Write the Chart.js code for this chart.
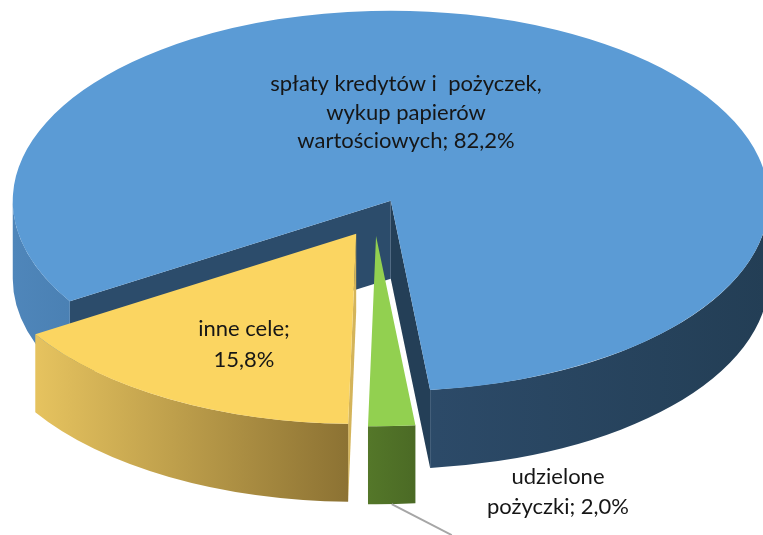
<!DOCTYPE html>
<html lang="pl">
<head>
<meta charset="utf-8">
<style>html,body{margin:0;padding:0;background:#fff}canvas{display:block}</style>
<script src="https://cdn.jsdelivr.net/npm/chart.js@4"></script>
</head>
<body>
<canvas id="c" width="763" height="535"></canvas>
<script>
const categories = ["spłaty kredytów i  pożyczek, wykup papierów wartościowych", "udzielone pożyczki", "inne cele"];
const shares = [82.2, 2.0, 15.8];
const topColors = ["#5b9bd5", "#92d050", "#fbd561"];
const labelLines = [
  ["spłaty kredytów i  pożyczek,", "wykup papierów", "wartościowych; 82,2%"],
  ["udzielone", "pożyczki; 2,0%"],
  ["inne cele;", "15,8%"]
];
const labelCenters = [[406, 84, 28.5], [558, 477, 30], [244, 329, 31]];
const wallStops = [
  [[0, "#4f86ba"], [0.08, "#4a80b3"], [0.56, "#2c4a68"], [1, "#233e55"]],
  [[0, "#547729"], [1, "#4b6a25"]],
  [[0, "#e6c35f"], [1, "#8c7233"]]
];
const cutWallColors = [["#2c4c6b", "#243f57"], [null, null], ["#d4b45a", null]];
const startDeg = 238.1, explode = 37, radius = 378, tilt = 0.503, depth = 78, centerY = 217.5;

const tiltPlugin = {
  id: "tilt3d",
  afterDatasetsUpdate(chart) {
    // pull every slice out from the common centre
    chart.getDatasetMeta(0).data.forEach(a => {
      const mid = (a.startAngle + a.endAngle) / 2;
      a.x += Math.cos(mid) * explode;
      a.y += Math.sin(mid) * explode;
    });
  },
  beforeDatasetsDraw(chart) {
    const ctx = chart.ctx;
    const arcs = chart.getDatasetMeta(0).data;
    const baseY = (chart.chartArea.top + chart.chartArea.bottom) / 2;
    const geom = a => ({
      cx: a.x, cy: centerY + (a.y - baseY) * tilt,
      r: a.outerRadius, ry: a.outerRadius * tilt, a0: a.startAngle, a1: a.endAngle
    });
    const cutWall = (g, ang, col) => {
      if (!col) return;
      const ex = g.cx + Math.cos(ang) * g.r, ey = g.cy + Math.sin(ang) * g.ry;
      ctx.beginPath();
      ctx.moveTo(g.cx, g.cy); ctx.lineTo(ex, ey);
      ctx.lineTo(ex, ey + depth); ctx.lineTo(g.cx, g.cy + depth);
      ctx.closePath(); ctx.fillStyle = col; ctx.fill();
    };
    [0, 2, 1].forEach(i => {
      const g = geom(arcs[i]);
      cutWall(g, g.a1, cutWallColors[i][1]);
      cutWall(g, g.a0, cutWallColors[i][0]);
      let xs = [];
      for (let k = -1; k <= 2; k++) {
        const s = Math.max(g.a0, 2 * Math.PI * k), e = Math.min(g.a1, 2 * Math.PI * k + Math.PI);
        if (e > s) {
          xs.push(g.cx + Math.cos(s) * g.r, g.cx + Math.cos(e) * g.r);
        }
      }
      const grad = ctx.createLinearGradient(Math.min(...xs), 0, Math.max(...xs), 0);
      wallStops[i].forEach(st => grad.addColorStop(st[0], st[1]));
      ctx.fillStyle = grad;
      for (let k = -1; k <= 2; k++) {
        const s = Math.max(g.a0, 2 * Math.PI * k), e = Math.min(g.a1, 2 * Math.PI * k + Math.PI);
        if (e > s) {
          ctx.beginPath();
          ctx.ellipse(g.cx, g.cy, g.r, g.ry, 0, s, e);
          ctx.ellipse(g.cx, g.cy + depth, g.r, g.ry, 0, e, s, true);
          ctx.closePath(); ctx.fill();
        }
      }
    });
    // leader line from the small slice towards its label
    const gs = geom(arcs[1]);
    const gm = (gs.a0 + gs.a1) / 2;
    const lx = gs.cx + Math.cos(gm) * gs.r, ly = gs.cy + Math.sin(gm) * gs.ry + depth;
    ctx.strokeStyle = "#a6a6a6"; ctx.lineWidth = 2;
    ctx.beginPath();
    ctx.moveTo(lx, ly); ctx.lineTo(lx + 60, ly + 31); ctx.stroke();
    // the library draws the tops of the slices flattened
    ctx.save();
    ctx.transform(1, 0, 0, tilt, 0, centerY - baseY * tilt);
  },
  afterDatasetsDraw(chart) {
    const ctx = chart.ctx;
    ctx.restore();
    ctx.save();
    ctx.fillStyle = "#161616";
    ctx.font = "22px Lato";
    ctx.textAlign = "center";
    ctx.textBaseline = "middle";
    labelLines.forEach((lines, i) => {
      lines.forEach((t, j) => ctx.fillText(t, labelCenters[i][0], labelCenters[i][1] + j * labelCenters[i][2]));
    });
    ctx.restore();
  }
};

new Chart(document.getElementById("c"), {
  type: "pie",
  data: {
    labels: categories,
    datasets: [{
      data: shares,
      backgroundColor: topColors,
      borderWidth: 0,
      hoverOffset: 0,
      clip: false
    }]
  },
  options: {
    responsive: false,
    animation: false,
    events: [],
    rotation: startDeg,
    radius: radius,
    layout: {padding: {right: 14}},
    plugins: {legend: {display: false}, tooltip: {enabled: false}, title: {display: false}}
  },
  plugins: [tiltPlugin]
});
</script>
</body>
</html>
